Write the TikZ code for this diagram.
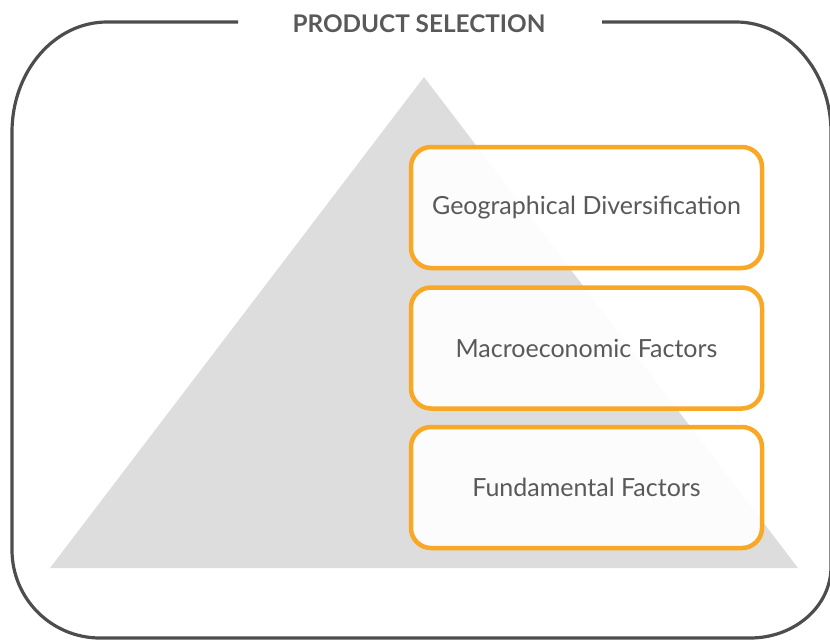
\documentclass[tikz,border=0pt]{standalone}
\usepackage{fontspec}
\setmainfont{Lato}
\definecolor{framegray}{HTML}{4D4D4D}
\definecolor{textgray}{HTML}{595959}
\definecolor{pyramidgray}{HTML}{DDDDDD}
\definecolor{factororange}{HTML}{F9A825}

\begin{document}
\begin{tikzpicture}[x=1pt, y=-1pt,
  factor/.style={draw=factororange, line width=4.5pt, rounded corners=20pt,
    fill=white, fill opacity=0.93, text opacity=1, text=textgray,
    minimum width=351pt, minimum height=121pt,
    font=\fontsize{25}{30}\selectfont}]
\useasboundingbox (0,0) rectangle (830,640);

\fill[pyramidgray] (424,77) -- (798,568) -- (50,568) -- cycle;

\draw[framegray, line width=3.2pt] (238,22) -- (107,22)
  .. controls (54.5,22) and (12,71.25) .. (12,132) -- (12,550)
  .. controls (12,598.6) and (51.4,638) .. (100,638) -- (750,638)
  .. controls (794.7,638) and (831,606.2) .. (831,567) -- (831,132)
  .. controls (831,71.25) and (788.5,22) .. (736,22) -- (602,22);

\node (title) at (419,23.5) [text=textgray, font=\bfseries\fontsize{24.3}{28}\selectfont] {PRODUCT SELECTION};

\node (geo) at (586.5,207.5) [factor] {Geographical Diversification};
\node (macro) at (586.5,348) [factor] {Macroeconomic Factors};
\node (fund) at (586.5,487.5) [factor] {Fundamental Factors};
\end{tikzpicture}
\end{document}
